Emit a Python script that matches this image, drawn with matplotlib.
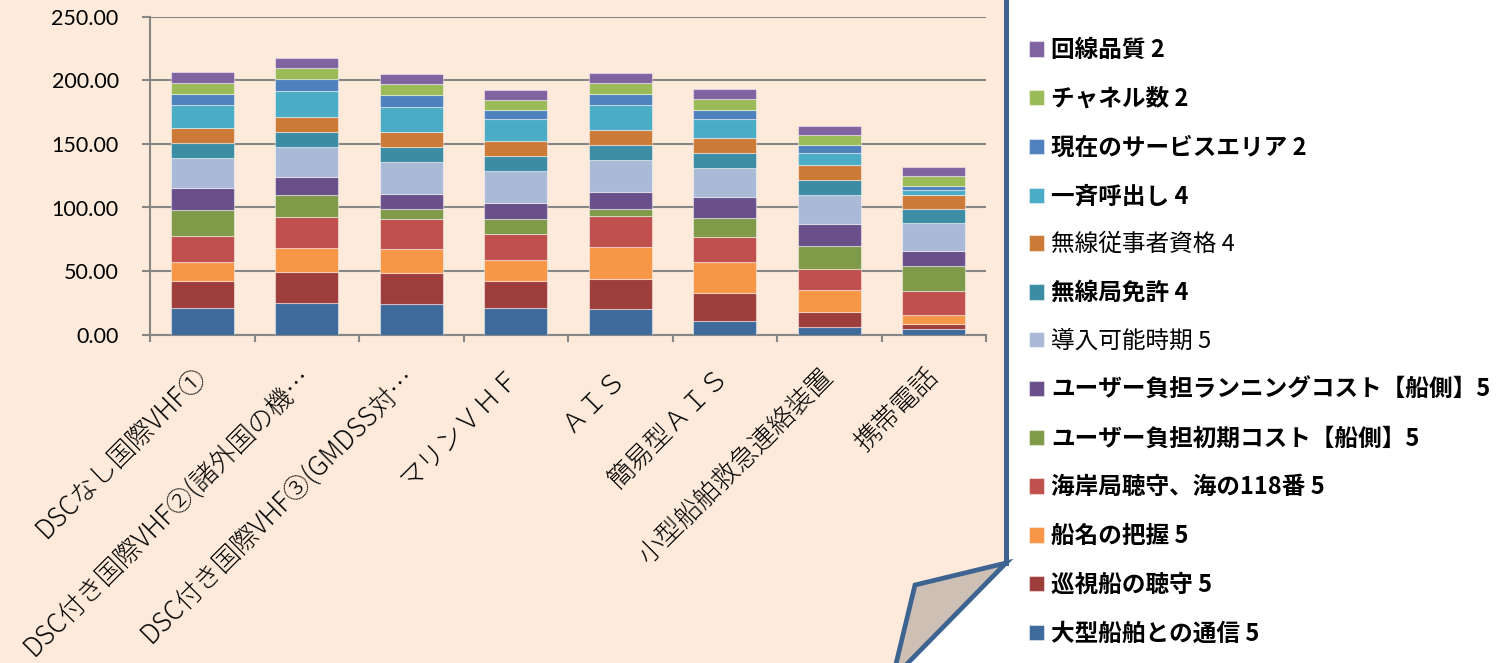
import numpy as np
import matplotlib
matplotlib.use("Agg")
import matplotlib.pyplot as plt
from matplotlib.patches import Polygon
from matplotlib.lines import Line2D

plt.rcParams['font.family'] = ['Noto Sans CJK JP', 'DejaVu Sans']

# categories (x axis)
categories = ['DSCなし国際VHF①', 'DSC付き国際VHF②(諸外国の機…', 'DSC付き国際VHF③(GMDSS対…',
              'マリンＶＨＦ', 'ＡＩＳ', '簡易型ＡＩＳ', '小型船舶救急連絡装置', '携帯電話']

# series, bottom to top
series_names = ['大型船舶との通信 5', '巡視船の聴守 5', '船名の把握 5', '海岸局聴守、海の118番 5',
                'ユーザー負担初期コスト【船側】5', 'ユーザー負担ランニングコスト【船側】5',
                '導入可能時期 5', '無線局免許 4', '無線従事者資格 4', '一斉呼出し 4',
                '現在のサービスエリア 2', 'チャネル数 2', '回線品質 2']

ogata    = [21.2, 24.7, 23.9, 21.2, 20.4, 11.0, 5.8, 4.2]
junshi   = [21.2, 24.8, 24.3, 21.2, 23.6, 22.0, 11.8, 3.9]
senmei   = [14.5, 18.6, 19.3, 16.0, 24.9, 24.1, 17.3, 7.3]
kaigan   = [20.7, 24.3, 23.3, 20.4, 24.3, 19.6, 16.7, 18.6]
shoki    = [20.7, 17.8, 7.9, 11.8, 5.5, 14.9, 17.8, 19.9]
running  = [17.0, 13.6, 12.0, 13.0, 13.4, 16.5, 17.8, 12.0]
donyu    = [23.6, 23.6, 25.1, 25.4, 25.4, 22.8, 22.5, 21.8]
menkyo   = [11.8, 12.0, 11.8, 11.8, 11.5, 11.8, 12.0, 11.0]
shikaku  = [12.0, 11.8, 12.1, 11.8, 12.3, 12.3, 11.8, 11.5]
issei    = [17.6, 20.2, 19.6, 17.3, 19.6, 14.4, 9.0, 3.6]
area     = [8.9, 9.4, 9.1, 6.8, 8.3, 7.3, 6.5, 3.1]
channel  = [8.6, 8.6, 8.4, 8.2, 8.4, 8.4, 7.9, 7.6]
hinshitsu = [8.4, 8.4, 8.4, 7.5, 8.4, 8.4, 7.3, 7.1]

data = [ogata, junshi, senmei, kaigan, shoki, running, donyu,
        menkyo, shikaku, issei, area, channel, hinshitsu]

colors = ['#3F6A9C', '#9D3E3D', '#F79646', '#C0504D', '#7F9A48', '#69508A', '#AAB9D6',
          '#3C8CA4', '#CC7A38', '#4BACC6', '#4F81BD', '#9BBB59', '#8064A2']

W, H = 1503, 663
fig = plt.figure(figsize=(W / 100, H / 100), dpi=100, facecolor='white')


def px(pts):
    return [(x / W, 1 - y / H) for x, y in pts]


# page background with curled corner
page = Polygon(px([(0, 0), (1006, 0), (1006, 563), (915, 585), (895, 663), (0, 663)]),
               closed=True, transform=fig.transFigure, facecolor='#FDEADA', edgecolor='none', zorder=0)
fig.add_artist(page)
edge_col = '#3D6391'
fig.add_artist(Line2D([1006 / W, 1006 / W], [1, 1 - 563 / H], transform=fig.transFigure,
                      color=edge_col, lw=3.6, zorder=1))
fold = Polygon(px([(1006, 563), (915, 585), (895, 668), (903, 668)]), closed=True,
               transform=fig.transFigure, facecolor='#CDBFB3', edgecolor=edge_col, lw=3.4,
               joinstyle='miter', zorder=1)
fig.add_artist(fold)

ax = fig.add_axes([150 / W, 1 - 334.7 / H, (986 - 150) / W, (334.7 - 16.7) / H])
ax.set_facecolor('none')

x = np.arange(len(categories))
bottom = np.zeros(len(categories))
handles = []
for name, vals, c in zip(series_names, data, colors):
    b = ax.bar(x, vals, 0.6, bottom=bottom, color=c, edgecolor=(1, 1, 1, 0.45),
               linewidth=0.8, label=name, zorder=3)
    handles.append(b)
    bottom += np.array(vals)

ax.set_xlim(-0.5, len(categories) - 0.5)
ax.set_ylim(0, 250)
ax.set_yticks(np.arange(0, 251, 50))
ax.set_yticklabels(['%.2f' % v for v in np.arange(0, 251, 50)], fontfamily='Lato', fontsize=15.5)
ax.yaxis.grid(True, color='#868686', lw=1.5, zorder=0)
ax.set_axisbelow(True)

ax.set_xticks(x)
ax.set_xticklabels(categories, rotation=45, ha='right', va='center', rotation_mode='anchor',
                   fontsize=19, fontweight='light')
ax.set_xticks(np.arange(-0.5, len(categories)), minor=True)
ax.tick_params(axis='x', which='major', length=0, pad=27)
ax.tick_params(axis='x', which='minor', length=5, width=1.5, color='#868686')
ax.tick_params(axis='y', length=5.5, width=1.5, color='#868686', pad=17, labelcolor='black')

for s in ['top', 'right']:
    ax.spines[s].set_visible(False)
for s in ['left', 'bottom']:
    ax.spines[s].set_color('#868686')
    ax.spines[s].set_linewidth(1.5)

leg = fig.legend(handles[::-1], series_names[::-1], loc='upper left',
                 bbox_to_anchor=(1008 / W, 1 - 17 / H), frameon=False,
                 prop={'family': ['Noto Sans CJK JP', 'DejaVu Sans'], 'size': 17, 'weight': 'bold'},
                 handlelength=0.62, handleheight=0.62, handletextpad=0.3, labelspacing=1.05)
for t in leg.get_texts():
    if t.get_text().startswith(('無線従事者', '導入可能')):
        t.set_fontweight('normal')

fig.savefig('out.png', dpi=100, facecolor='white')
